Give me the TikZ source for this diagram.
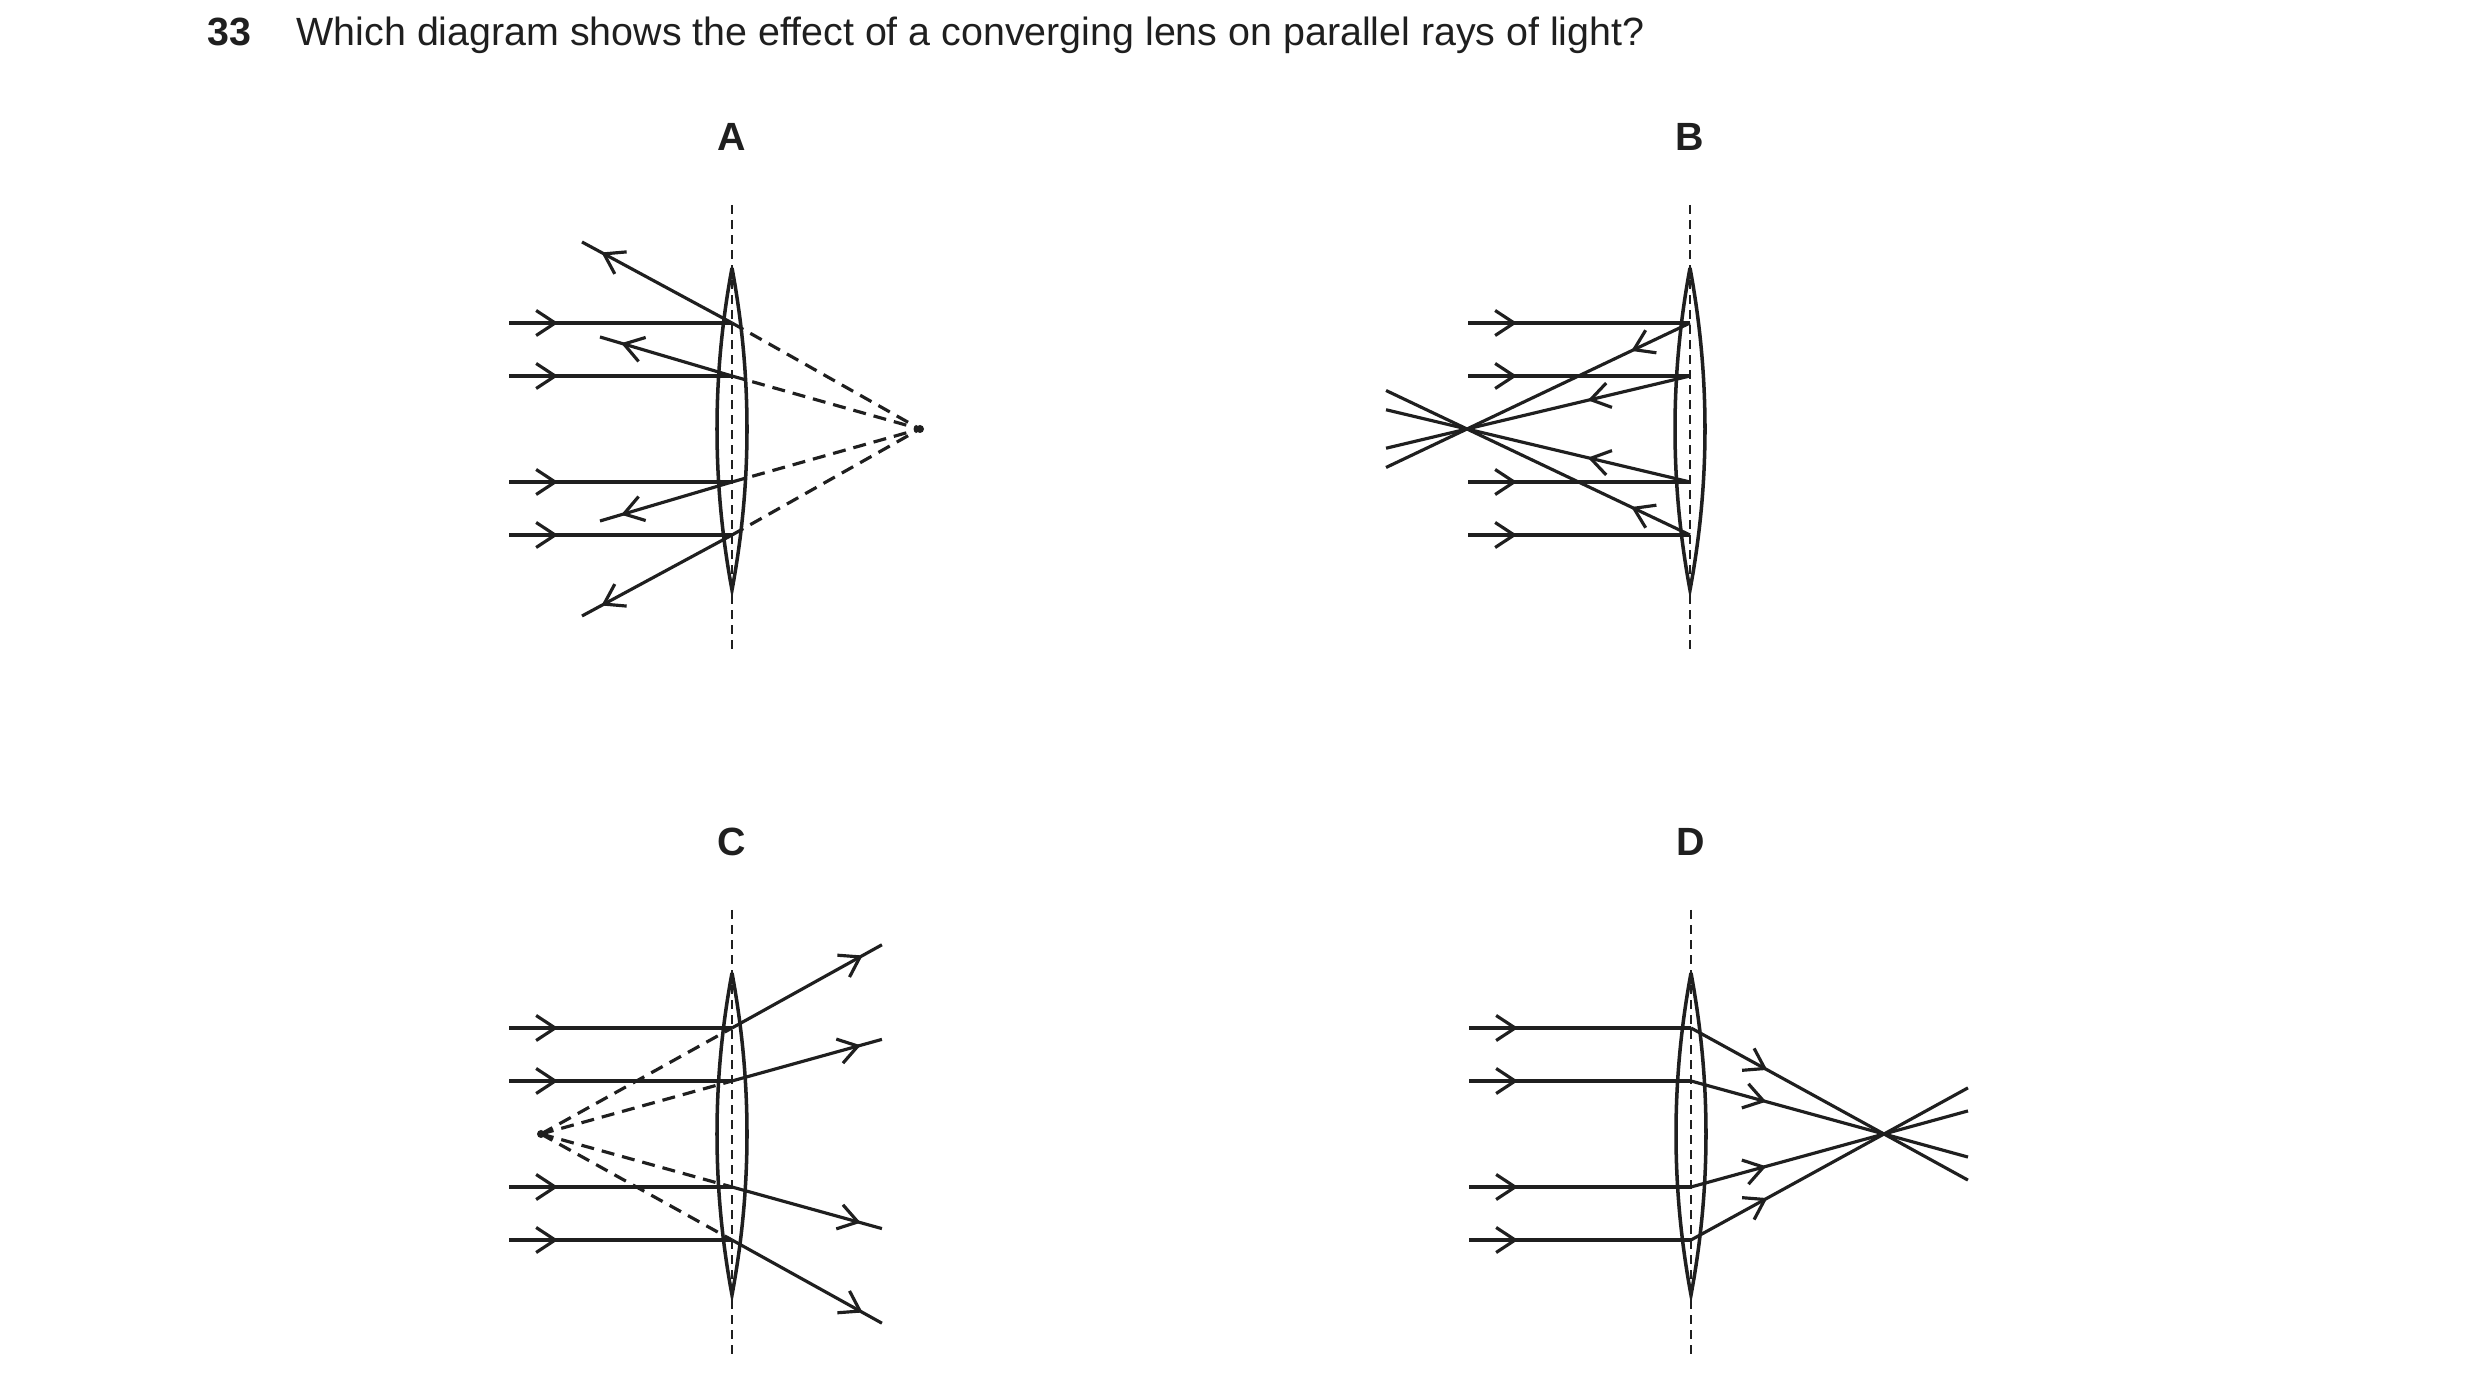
\documentclass[tikz,border=0pt]{standalone}
\usepackage{fontspec}
\setmainfont{Liberation Sans}
\usetikzlibrary{arrows.meta, calc, decorations.markings}

\tikzset{
  ray/.style={line width=0.9pt, color=black!88},
  axisline/.style={line width=0.4pt, color=black!88, dash pattern=on 0.09cm off 0.06cm},
  virtual/.style={line width=0.9pt, color=black!88, dash pattern=on 0.13cm off 0.08cm},
  lens/.style={line width=1pt, color=black!88},
  tip at/.style={postaction={decorate, decoration={markings,
      mark=at position #1 with {\arrow{Straight Barb[length=0.19cm, width=0.25cm]}}}}},
  label/.style={font=\fontsize{11.2}{13}\selectfont\bfseries, color=black!88}
}

% lens with its optical axis, centred on the current origin
\newcommand{\drawlens}{%
  \draw[axisline] (0,-224) -- (0,224);
  \draw[lens] (0,-161) .. controls (20,-54) and (20,54) .. (0,161)
              .. controls (-20,54) and (-20,-54) .. (0,-161);
}

\begin{document}
\begin{tikzpicture}[x=0.01cm, y=-0.01cm]
  \useasboundingbox (0,0) rectangle (2480,1398);

  % Question
  \node[label, anchor=base west, inner sep=0pt] (num) at (207,46) {33};
  \node[font=\fontsize{11.2}{13}\selectfont, color=black!88, anchor=base west, inner sep=0pt] (question) at (296,46)
    {Which diagram shows the effect of a converging lens on parallel rays of light?};

  % A
  \node[label] (labA) at (732,137) {A};
  \begin{scope}[shift={(732,429)}]
    \drawlens
    \coordinate (fA) at (188,0);
    \foreach \y in {-106,-53,53,106} {
      \coordinate (inA) at (-223,\y);
      \coordinate (hitA) at (0,\y);
      \draw[ray, tip at=0.49cm] (inA) -- (hitA);
      \draw[virtual] (hitA) -- (fA);
    }
    \coordinate (hA1) at (0,-106); \coordinate (oA1) at (-150,-187);
    \coordinate (hA2) at (0,-53);  \coordinate (oA2) at (-132,-92);
    \coordinate (hA3) at (0,53);   \coordinate (oA3) at (-132,92);
    \coordinate (hA4) at (0,106);  \coordinate (oA4) at (-150,187);
    \foreach \i in {1,...,4}
      \draw[ray, tip at=-0.22cm] (hA\i) -- (oA\i);
    \fill[black!88] (fA) circle (4);
  \end{scope}

  % B
  \node[label] (labB) at (1690,137) {B};
  \begin{scope}[shift={(1690,429)}]
    \drawlens
    \coordinate (fB) at (-223,0);
    \foreach \y/\t in {-106/0.65cm,-53/1.05cm,53/1.05cm,106/0.65cm} {
      \coordinate (inB) at (-222,\y);
      \coordinate (hitB) at (0,\y);
      \draw[ray, tip at=0.49cm] (inB) -- (hitB);
      \draw[ray, tip at=\t] (hitB) -- ($(hitB)!1.363!(fB)$);
    }
  \end{scope}

  % C
  \node[label] (labC) at (732,842) {C};
  \begin{scope}[shift={(732,1134)}]
    \drawlens
    \coordinate (fC) at (-191,0);
    \foreach \y in {-106,-53,53,106} {
      \coordinate (inC) at (-223,\y);
      \coordinate (hitC) at (0,\y);
      \draw[ray, tip at=0.49cm] (inC) -- (hitC);
      \draw[virtual] (fC) -- (hitC);
      \draw[ray, tip at=-0.22cm] (hitC) -- ($(fC)!1.785!(hitC)$);
    }
    \fill[black!88] (fC) circle (4);
  \end{scope}

  % D
  \node[label] (labD) at (1691,842) {D};
  \begin{scope}[shift={(1691,1134)}]
    \drawlens
    \coordinate (fD) at (193,0);
    \foreach \y/\t in {-106/0.87cm,-53/0.78cm,53/0.78cm,106/0.87cm} {
      \coordinate (inD) at (-222,\y);
      \coordinate (hitD) at (0,\y);
      \draw[ray, tip at=0.49cm] (inD) -- (hitD);
      \draw[ray, tip at=\t] (hitD) -- ($(hitD)!1.435!(fD)$);
    }
  \end{scope}
\end{tikzpicture}
\end{document}
